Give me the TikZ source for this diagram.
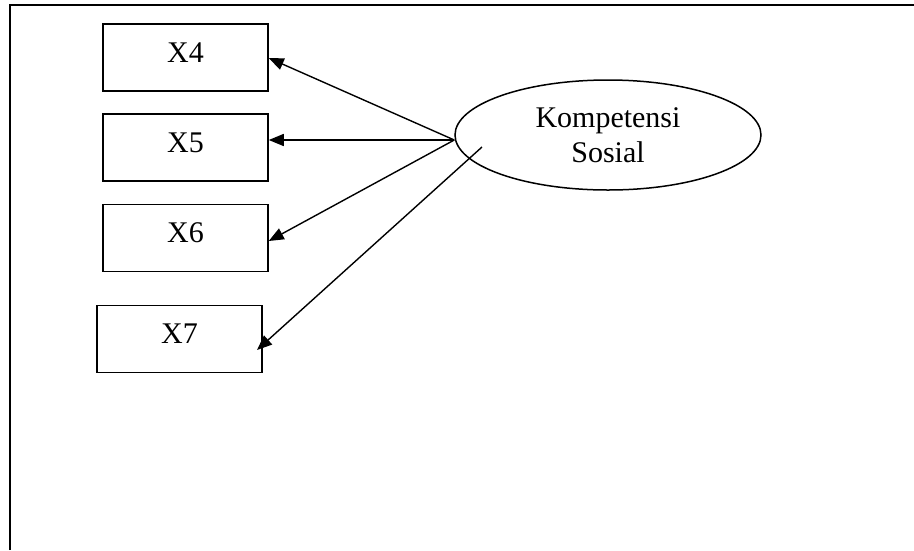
\documentclass[tikz,border=0pt]{standalone}
\usepackage{fontspec}
\setmainfont{Liberation Serif}
\usetikzlibrary{shapes.geometric,arrows.meta}
\begin{document}
\begin{tikzpicture}[x=1pt,y=-1pt,
  indicator/.style={draw,line width=1.5pt,minimum width=165pt,minimum height=67pt,inner sep=0pt,
    text height=21pt,text depth=12pt,font=\fontsize{30}{34}\selectfont},
  latent/.style={draw,ellipse,line width=1.5pt,minimum width=306pt,minimum height=110pt,inner sep=0pt,
    align=center,font=\fontsize{30}{35}\selectfont},
  loading/.style={line width=1.4pt,-{Triangle[length=15pt,width=12pt]}}]
  \useasboundingbox (0,0) rectangle (914,550);
  % open frame: top and left edges only
  \draw[line width=2pt] (9.5,550) -- (9.5,5.3) -- (914,5.3);
  % indicators
  \node[indicator] (x4) at (185.5,57.5) {X4};
  \node[indicator] (x5) at (185.5,147.5) {X5};
  \node[indicator] (x6) at (185.5,238) {X6};
  \node[indicator] (x7) at (179.5,339) {X7};
  % latent construct
  \node[latent] (ks) at (608,135) {Kompetensi\\Sosial};
  \coordinate (ksw) at ([yshift=-5pt]ks.west);
  \coordinate (ksin) at (482,147);
  \coordinate (x7tip) at (257,350);
  % loadings
  \draw[loading] (ksw) -- ([yshift=-0.5pt]x4.east);
  \draw[loading] (ksw) -- (x5.east |- ksw);
  \draw[loading] (ksw) -- ([yshift=-3pt]x6.east);
  \draw[loading] (ksin) -- (x7tip);
\end{tikzpicture}
\end{document}
